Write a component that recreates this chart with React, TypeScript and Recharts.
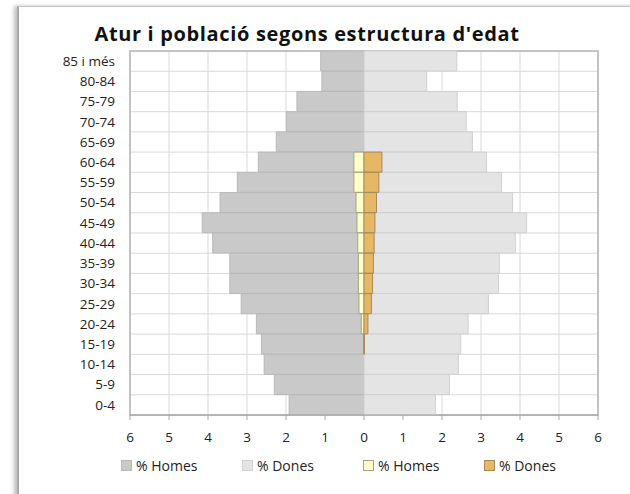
import React from "react";
import {
  BarChart,
  Bar,
  XAxis,
  YAxis,
  CartesianGrid,
  Legend,
  ReferenceArea,
} from "recharts";

const title = "Atur i població segons estructura d'edat";
const ageGroups = [
  "85 i més", "80-84", "75-79", "70-74", "65-69", "60-64", "55-59", "50-54", "45-49",
  "40-44", "35-39", "30-34", "25-29", "20-24", "15-19", "10-14", "5-9", "0-4",
];
const poblacioHomes = [1.11, 1.08, 1.72, 1.99, 2.25, 2.71, 3.25, 3.69, 4.15, 3.88, 3.44, 3.44, 3.15, 2.76, 2.63, 2.56, 2.3, 1.92];
const poblacioDones = [2.38, 1.61, 2.39, 2.62, 2.78, 3.14, 3.53, 3.81, 4.17, 3.88, 3.47, 3.45, 3.19, 2.67, 2.48, 2.42, 2.19, 1.83];
const aturHomes = [0, 0, 0, 0, 0, 0.26, 0.26, 0.205, 0.18, 0.16, 0.145, 0.145, 0.13, 0.07, 0.012, 0, 0, 0];
const aturDones = [0, 0, 0, 0, 0, 0.46, 0.38, 0.32, 0.28, 0.26, 0.24, 0.22, 0.19, 0.1, 0.012, 0, 0, 0];
const xTicks = [-6, -5, -4, -3, -2, -1, 0, 1, 2, 3, 4, 5, 6];

const series = [
  { key: "pH", name: "% Homes", axis: "pop", stack: "p", fill: "#c9c9c9", stroke: "#b9b9b9" },
  { key: "pD", name: "% Dones", axis: "pop", stack: "p", fill: "#e4e4e4", stroke: "#d0d0d0" },
  { key: "aH", name: "% Homes", axis: "atur", stack: "a", fill: "#ffffcc", stroke: "#a3a37f" },
  { key: "aD", name: "% Dones", axis: "atur", stack: "a", fill: "#e6b866", stroke: "#a58a58" },
];

const data = ageGroups.map((age, i) => ({
  age,
  pH: -poblacioHomes[i],
  pD: poblacioDones[i],
  aH: -aturHomes[i],
  aD: aturDones[i],
}));

const FONT = "'Open Sans', Lato, sans-serif";

const LegendContent = () => (
  <div style={{ display: "flex", paddingLeft: 121, fontFamily: FONT, fontSize: 14, color: "#222" }}>
    {series.map((s, i) => (
      <div key={i} style={{ width: 121, display: "flex", alignItems: "center" }}>
        <span
          style={{
            display: "inline-block",
            width: 9,
            height: 9,
            background: s.fill,
            border: `1px solid ${s.stroke}`,
            marginRight: 4,
          }}
        />
        <span>{s.name}</span>
      </div>
    ))}
  </div>
);

export default function App() {
  return (
    <div style={{ position: "absolute", left: 0, top: 0, width: 630, height: 494, background: "#fff", overflow: "hidden" }}>
      <div
        style={{
          position: "absolute",
          left: 17,
          top: 6,
          width: 640,
          height: 520,
          borderLeft: "2px solid #a9a9a9",
          borderTop: "1.5px solid #c4c4c4",
          boxShadow: "-3px 0 4px rgba(0,0,0,0.25)",
        }}
      />
      <div
        style={{
          position: "absolute",
          left: -8,
          top: 21,
          width: 630,
          textAlign: "center",
          fontFamily: FONT,
          fontWeight: 700,
          fontSize: 20,
          letterSpacing: 0.65,
          lineHeight: "26px",
          color: "#111",
        }}
      >
        {title}
      </div>
      <div style={{ position: "absolute", left: 0, top: 0 }}>
        <BarChart
          width={630}
          height={494}
          data={data}
          layout="vertical"
          stackOffset="sign"
          barCategoryGap={0}
          barGap={0}
          margin={{ top: 51, right: 32, bottom: 49, left: 20 }}
        >
          <CartesianGrid
            stroke="#d9d9d9"
            strokeWidth={1}
            horizontalCoordinatesGenerator={(p: any) => {
              const off = p.offset;
              return ageGroups.map((_, i) => off.top + (i * off.height) / ageGroups.length).concat([off.top + off.height]);
            }}
          />
          <XAxis
            type="number"
            domain={[-6, 6]}
            ticks={xTicks}
            allowDataOverflow
            tickFormatter={(v: number) => String(Math.abs(v))}
            height={30}
            tickSize={5}
            tickMargin={12}
            stroke="#a6a6a6"
            tick={{ fill: "#222", fontFamily: FONT, fontSize: 13.5 }}
          />
          <YAxis
            yAxisId="pop"
            type="category"
            dataKey="age"
            width={110}
            tickLine={false}
            axisLine={false}
            tickSize={0}
            tickMargin={15}
            interval={0}
            tick={{ fill: "#222", fontFamily: FONT, fontSize: 13.5 }}
          />
          <YAxis yAxisId="atur" type="category" dataKey="age" hide width={0} />
          <ReferenceArea yAxisId="pop" x1={-6} x2={6} fill="none" stroke="#b5b5b5" strokeWidth={1.5} ifOverflow="visible" />
          {series.map((s) => (
            <Bar
              key={s.key}
              yAxisId={s.axis}
              dataKey={s.key}
              name={s.name}
              stackId={s.stack}
              fill={s.fill}
              stroke={s.stroke}
              strokeWidth={1}
              isAnimationActive={false}
            />
          ))}
          <Legend
            layout="horizontal"
            verticalAlign="middle"
            align="center"
            wrapperStyle={{ top: 456, left: 0, width: 630 }}
            content={<LegendContent />}
          />
        </BarChart>
      </div>
    </div>
  );
}
